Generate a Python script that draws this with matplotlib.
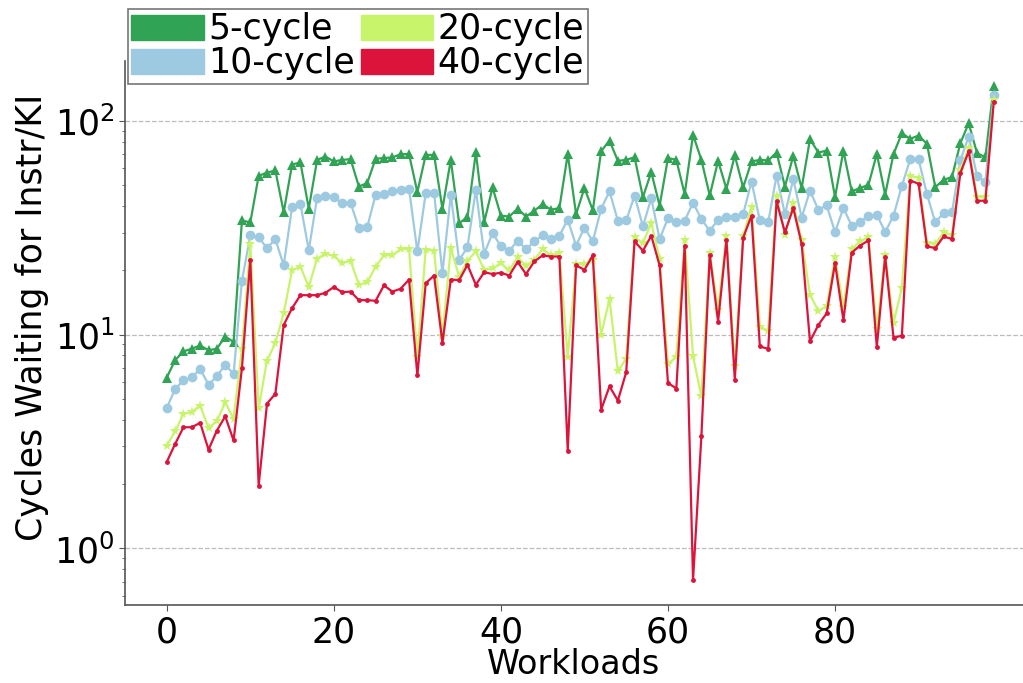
import matplotlib
matplotlib.use("Agg")
import matplotlib.pyplot as plt
from matplotlib.patches import Patch
import numpy as np

labels = ["5-cycle", "10-cycle", "20-cycle", "40-cycle"]
colors = ["#31a354", "#9ecae1", "#c7f46b", "#dc143c"]

cyc5 = [6.3, 7.6, 8.35, 8.6, 8.9, 8.45, 8.6, 9.8, 9.25, 34.2,
        33.5, 55.3, 57.3, 58.6, 37.4, 62.5, 63.9, 38.9, 65.7, 68.1,
        64.6, 65.7, 66.2, 49.3, 51.2, 66.5, 67, 67.4, 69.9, 69.9,
        46.4, 69.3, 69.3, 38.8, 65.7, 33.2, 35.5, 71.4, 33.6, 48.8,
        36, 35.7, 38.8, 35.7, 38, 40.8, 38.4, 39.1, 69.9, 36.6,
        48.5, 38.2, 72.2, 80.9, 65, 65.7, 67.6, 44, 57.6, 40.1,
        67, 65.7, 45.4, 86, 65.7, 44.8, 65, 48.1, 68.9, 48.8,
        64.6, 65.7, 65.3, 71.1, 49.3, 68.6, 48.5, 82.1, 71.1, 72.6,
        44, 72.4, 46.8, 48.5, 50.2, 70.1, 45.2, 70, 87.5, 82.4,
        85.4, 78.1, 49, 53, 54.6, 78.7, 97.5, 70.6, 67.6, 146]

cyc10 = [4.54, 5.57, 6.11, 6.31, 6.91, 5.84, 6.38, 7.24, 6.55, 17.9,
         29.1, 28.5, 25.4, 28, 21.1, 39.5, 40.9, 24.8, 43.8, 44.7,
         44, 41.2, 41.4, 31.5, 31.9, 45.1, 45.4, 46.8, 47.6, 48.1,
         24.5, 46, 46, 19.4, 45.1, 22.3, 25.7, 47.6, 23.9, 29.9,
         25.9, 24.7, 27.5, 25.1, 27.3, 29.1, 28.1, 29, 34.5, 26.1,
         31.7, 27.3, 38.8, 46.8, 34.1, 34.2, 44.7, 32.1, 43.5, 28,
         35.1, 33.8, 34.1, 41.4, 34.7, 30.6, 34.5, 35.7, 35.7, 36.6,
         52, 34.2, 33.6, 55.5, 36.6, 53.4, 35.3, 47.1, 38.4, 40.2,
         30.2, 39.1, 32.3, 33.6, 36, 36.4, 30.2, 36, 49.7, 66.2,
         66.2, 45.4, 33.5, 37.1, 37.3, 65.3, 84.5, 55, 52, 132]

cyc20 = [3.03, 3.53, 4.26, 4.35, 4.66, 3.66, 3.94, 4.83, 4.04, 8.6,
         26.5, 4.54, 7.56, 9.14, 12.6, 20, 20.8, 16.7, 22.7, 23.9,
         23.4, 21.6, 22.2, 17.1, 17.6, 20.8, 23.5, 23.5, 25.1, 25.2,
         7.87, 25, 24.7, 9.9, 25.4, 18.7, 22.2, 24.5, 20.1, 20.4,
         21.6, 20, 23, 21, 22.4, 25.1, 23.5, 24.1, 7.87, 21.4,
         21.4, 22.4, 10, 14.7, 6.74, 7.72, 28.6, 26.8, 33.3, 22.6,
         7.3, 7.87, 27.8, 7.92, 5.15, 24.2, 13.1, 28.8, 7.11, 28.8,
         39.7, 10.9, 10.4, 44.3, 29.3, 41.4, 27.6, 15.4, 12.9, 13.6,
         23, 13.5, 25.2, 27.3, 28.6, 10.6, 23.6, 11.4, 16.5, 55.3,
         54, 26.8, 26.6, 30.1, 29.3, 58.6, 75, 44, 44, 125]

cyc40 = [2.54, 3.08, 3.69, 3.69, 3.87, 2.9, 3.56, 4.15, 3.2, 6.99,
         22.4, 1.97, 4.76, 5.29, 11.1, 13.3, 15.3, 15.3, 15.3, 15.7,
         16.7, 15.8, 15.9, 14.5, 14.5, 14.4, 17, 15.9, 16.4, 18.1,
         6.45, 17.4, 18.9, 9.14, 18.1, 18, 21.2, 17.1, 19.6, 19.2,
         19.5, 18.9, 21.9, 19.2, 22, 23.5, 23.2, 23.2, 2.87, 21.1,
         20.1, 23.5, 4.46, 5.73, 4.92, 6.67, 27.3, 24.7, 29, 21.1,
         5.95, 5.6, 26.1, 0.71, 3.35, 23.6, 11.5, 27.8, 6.16, 28.4,
         36, 8.81, 8.58, 42, 30.1, 39.1, 26.6, 9.3, 11.1, 12.6,
         21.6, 11.7, 24.2, 26.1, 27.6, 8.76, 23.2, 9.66, 9.9, 52.6,
         50.8, 25.9, 25.4, 28.8, 28, 57, 71.9, 42.3, 42.3, 123]

series = [cyc5, cyc10, cyc20, cyc40]
markers = ["^", "o", "*", "o"]
msizes = [7, 7, 8, 3.5]

fs = 25
fig = plt.figure(figsize=(10.23, 6.83), dpi=100)
ax = fig.add_axes([125 / 1023, 1 - 605 / 683, 1 - 125 / 1023, (605 - 61) / 683])

x = np.arange(len(cyc5))
for vals, c, m, ms in zip(series, colors, markers, msizes):
    ax.plot(x, vals, color=c, marker=m, markersize=ms, linewidth=1.6,
            markeredgewidth=0)

ax.set_yscale("log")
ax.set_xlim(-5.0, 102.5)
ax.set_xticks([0, 20, 40, 60, 80])
ax.grid(axis="y", which="major", linestyle="--", color="#bbbbbb", linewidth=0.9)
ax.set_axisbelow(True)

for side in ["top", "right"]:
    ax.spines[side].set_visible(False)
for side in ["left", "bottom"]:
    ax.spines[side].set_color("#555555")
    ax.spines[side].set_linewidth(1.2)
ax.tick_params(axis="both", which="major", labelsize=fs, color="#555555", length=4)
ax.tick_params(axis="y", which="minor", color="#555555", length=2.5)

ax.set_xlabel("Workloads", fontsize=24, labelpad=-1)
ax.set_ylabel("Cycles Waiting for Instr/KI", fontsize=fs)
ax.yaxis.set_label_coords(-0.085, 0.528)

handles = [Patch(facecolor=c, edgecolor=c, label=l) for c, l in zip(colors, labels)]
leg = fig.legend(handles=handles, loc="upper left", ncol=2,
                 bbox_to_anchor=(128 / 1023, 1 - 9 / 683), fontsize=fs,
                 frameon=True, fancybox=False, borderaxespad=0,
                 handlelength=2.1, handleheight=0.75, handletextpad=0.12,
                 columnspacing=0.15, labelspacing=0.0, borderpad=0.1)
leg.get_frame().set_edgecolor("#555555")
leg.get_frame().set_linewidth(1.2)

fig.savefig("out.png", dpi=100)
